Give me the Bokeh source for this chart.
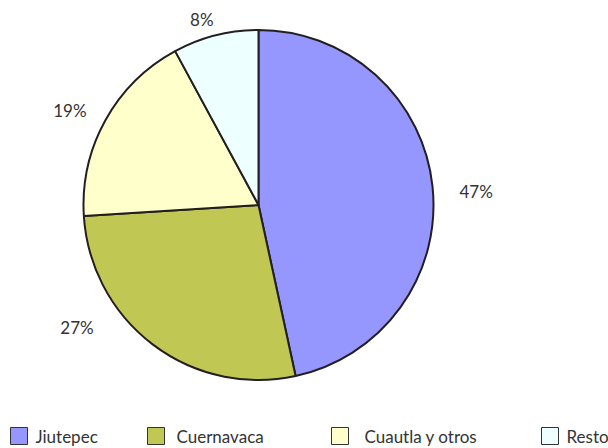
import numpy as np
from bokeh.plotting import figure
from bokeh.models import Range1d, ColumnDataSource
from bokeh.core.properties import value
from bokeh.embed import file_html
from bokeh.resources import INLINE

categories = ["Jiutepec", "Cuernavaca", "Cuautla y otros", "Resto"]
shares = [46.6, 27.4, 18.1, 7.9]
pct_labels = ["47%", "27%", "19%", "8%"]
colors = ["#9696FF", "#C0C853", "#FFFFCC", "#EEFFFF"]

# ---- layout ----
W, H = 608, 448
CX, CY, R = 258, 243.5, 175
label_angle_deg = [3.5, -146.0, 153.4, 107.0]
label_r = [218, 219, 211, 194]
legend_sw_x = [10, 147, 331, 541]
legend_tx_x = [35, 176, 364, 566]
legend_y = 12.5
FONT = value("Lato")

p = figure(width=W, height=H, x_range=Range1d(0, W), y_range=Range1d(0, H),
           output_backend="svg", toolbar_location=None, min_border=0,
           background_fill_color="white", border_fill_color="white")
p.axis.visible = False
p.grid.visible = False
p.outline_line_color = None

vals = np.array(shares, dtype=float)
frac = vals / vals.sum()
cum = np.concatenate([[0], np.cumsum(frac)])
start = np.pi / 2 - 2 * np.pi * cum[:-1]
end = np.pi / 2 - 2 * np.pi * cum[1:]

src = ColumnDataSource(dict(x=[CX] * len(categories), y=[CY] * len(categories),
                            start=start, end=end, color=colors, cat=categories))
p.wedge(x="x", y="y", radius=R, start_angle="start", end_angle="end",
        direction="clock", fill_color="color", line_color="#231F20",
        line_width=2, source=src)

la = np.deg2rad(label_angle_deg)
lx = CX + np.array(label_r) * np.cos(la)
ly = CY + np.array(label_r) * np.sin(la)
p.text(x=lx, y=ly, text=pct_labels, text_font=FONT, text_font_size="17px",
       text_align="center", text_baseline="middle", text_color="#333333")

# legend
p.rect(x=[x + 8.5 for x in legend_sw_x], y=[legend_y] * 4, width=17, height=17,
       fill_color=colors, line_color="#333333", line_width=1)
p.text(x=legend_tx_x, y=[legend_y] * 4, text=categories, text_font=FONT,
       text_font_size="17px", text_align="left", text_baseline="middle",
       text_color="#333333")

open("out.html", "w").write(file_html(p, INLINE))
